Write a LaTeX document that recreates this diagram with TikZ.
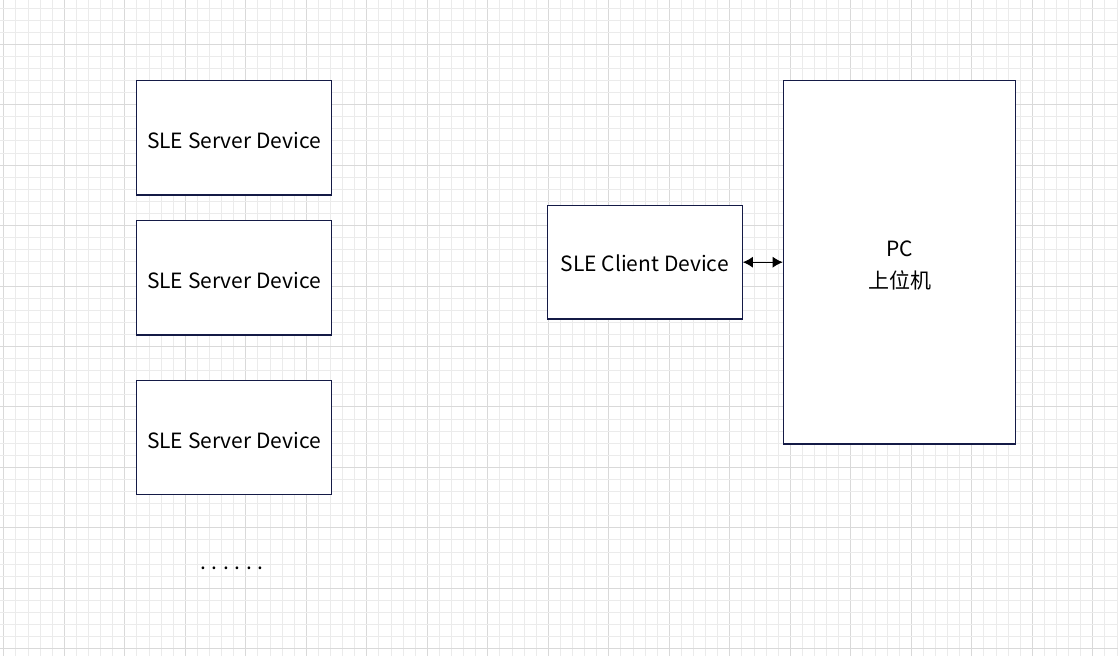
\documentclass[tikz,border=0pt]{standalone}
\usepackage{fontspec}
\setmainfont{Noto Sans CJK SC}
\usetikzlibrary{arrows.meta}
\definecolor{boxline}{HTML}{141A46}
\definecolor{gridminor}{HTML}{EBEBEB}
\definecolor{gridmajor}{HTML}{D9D9D9}
\tikzset{
  devbox/.style={draw=boxline, line width=1.2pt, fill=white, inner sep=0pt},
  boxtext/.style={font=\fontsize{21}{32}\selectfont, text=black, align=center, inner sep=0pt},
  link/.style={line width=1pt, {Latex[length=10pt,width=11pt]}-{Latex[length=10pt,width=11pt]}}
}
\begin{document}
\begin{tikzpicture}[x=1pt,y=-1pt]
\fill[white] (0,0) rectangle (1118,656);
\useasboundingbox (0,0) rectangle (1118,656);
% grid
\foreach \k in {0,...,92}{
  \pgfmathsetmacro{\xx}{3.8+12.1*\k}
  \pgfmathtruncatemacro{\m}{mod(\k,5)}
  \ifnum\m=0
    \draw[gridmajor, line width=1pt] (\xx,0) -- (\xx,656);
  \else
    \draw[gridminor, line width=1pt] (\xx,0) -- (\xx,656);
  \fi
}
\foreach \k in {0,...,53}{
  \pgfmathsetmacro{\yy}{8.0+12.09*\k}
  \pgfmathtruncatemacro{\m}{mod(\k+2,5)}
  \ifnum\m=0
    \draw[gridmajor, line width=1pt] (0,\yy) -- (1118,\yy);
  \else
    \draw[gridminor, line width=1pt] (0,\yy) -- (1118,\yy);
  \fi
}
% boxes
\node[devbox, minimum width=194.5pt, minimum height=114.5pt,
  label={[boxtext, yshift=-2.5pt]center:SLE Server Device}] (s1) at (234,137.8) {};
\node[devbox, minimum width=194.5pt, minimum height=114.5pt,
  label={[boxtext, yshift=-2.5pt]center:SLE Server Device}] (s2) at (234,277.8) {};
\node[devbox, minimum width=194.5pt, minimum height=113.5pt,
  label={[boxtext, yshift=-2.5pt]center:SLE Server Device}] (s3) at (234,437.5) {};
\node[devbox, minimum width=195pt, minimum height=113.7pt,
  label={[boxtext, yshift=-1pt]center:SLE Client Device}] (client) at (644.8,262.2) {};
\node[devbox, minimum width=232.4pt, minimum height=363.3pt,
  label={[boxtext, yshift=-3pt]center:PC\\上位机}] (pc) at (899.5,262.4) {};
\node[font=\fontsize{21}{24}\selectfont, inner sep=0pt] (dots) at (232,568) {.\hspace{5.7pt}.\hspace{5.7pt}.\hspace{5.7pt}.\hspace{5.7pt}.\hspace{5.7pt}.};
\draw[link] (client.east) -- (pc.west |- client.east);
\end{tikzpicture}
\end{document}
